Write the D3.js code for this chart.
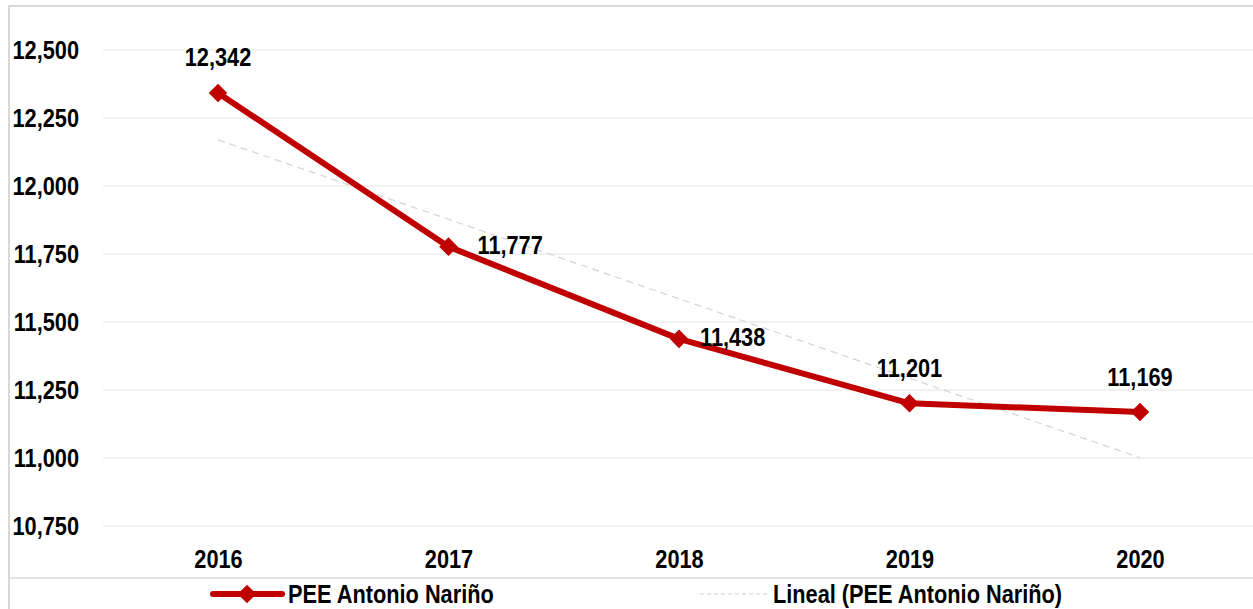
<!DOCTYPE html>
<html>
<head>
<meta charset="utf-8">
<script src="https://cdn.jsdelivr.net/npm/d3@7"></script>
<style>
  body { margin: 0; background: #fff; }
  svg text { font-family: "Liberation Sans", Arial, sans-serif; font-weight: bold; fill: #000; }
</style>
</head>
<body>
<div id="chart"></div>
<script>
'use strict';

// data
const years = ['2016', '2017', '2018', '2019', '2020'];
const values = [12342, 11777, 11438, 11201, 11169];
const yTicks = [10750, 11000, 11250, 11500, 11750, 12000, 12250, 12500];
const seriesName = 'PEE Antonio Nariño';
const trendName = 'Lineal (PEE Antonio Nariño)';

// label placement per point (Excel style: above or to the right)
const labelPos = ['above', 'right', 'right', 'above', 'above'];
const labelDx = [0, 29, 21, 0, 0];

const W = 1253, H = 609;
const RED = '#C00000';
const FONT = 25;
const NARROW = 0.87; // no Arial Narrow here, squeeze the regular face

const svg = d3.select('#chart').append('svg')
    .attr('width', W)
    .attr('height', H);

// draw a condensed bold text anchored at (x, y)
function narrowText(parent, x, y, str, anchor) {
  return parent.append('text')
      .attr('transform', 'translate(' + x + ',' + y + ') scale(' + NARROW + ',1)')
      .attr('text-anchor', anchor || 'start')
      .attr('font-size', FONT)
      .text(str);
}

// outer frame
svg.append('rect')
    .attr('x', 9).attr('y', 6)
    .attr('width', W + 10).attr('height', H + 10)
    .attr('fill', 'none')
    .attr('stroke', '#d9d9d9')
    .attr('stroke-width', 2);

// legend separator
svg.append('line')
    .attr('x1', 10).attr('x2', W)
    .attr('y1', 578).attr('y2', 578)
    .attr('stroke', '#d9d9d9')
    .attr('stroke-width', 1.5);

const x = d3.scalePoint()
    .domain(years)
    .range([218, 1140]);

const y = d3.scaleLinear()
    .domain([10750, 12500])
    .range([526, 50]);

// gridlines
svg.append('g')
    .selectAll('line')
    .data(yTicks)
  .enter().append('line')
    .attr('x1', 103).attr('x2', W)
    .attr('y1', d => y(d)).attr('y2', d => y(d))
    .attr('stroke', '#ececec')
    .attr('stroke-width', 1.5);

// y axis labels
const fmt = d3.format(',');
const yAxis = d3.axisLeft(y).tickValues(yTicks).tickFormat(fmt).tickSize(0).tickPadding(0);
const yg = svg.append('g')
    .attr('transform', 'translate(79,0)')
    .call(yAxis);
yg.select('.domain').remove();
yg.selectAll('text')
    .attr('x', 0)
    .attr('dy', 8.5)
    .attr('transform', 'scale(' + NARROW + ',1)')
    .attr('font-size', FONT)
    .attr('font-family', null)
    .style('font-weight', 'bold');

// x axis labels
const xAxis = d3.axisBottom(x).tickSize(0).tickPadding(0);
const xg = svg.append('g')
    .attr('transform', 'translate(0,568)')
    .call(xAxis);
xg.select('.domain').remove();
xg.selectAll('text')
    .attr('y', 0)
    .attr('dy', 0)
    .attr('transform', 'scale(' + NARROW + ',1)')
    .attr('font-size', FONT)
    .attr('font-family', null)
    .style('font-weight', 'bold');

// linear trend (least squares over index)
const mx = d3.mean(values, (d, i) => i);
const my = d3.mean(values);
const slope = d3.sum(values, (d, i) => (i - mx) * (d - my)) / d3.sum(values, (d, i) => (i - mx) * (i - mx));
const trend = years.map((yr, i) => my + slope * (i - mx));

svg.append('path')
    .datum(trend)
    .attr('fill', 'none')
    .attr('stroke', '#d4d4d4')
    .attr('stroke-width', 1.2)
    .attr('stroke-dasharray', '7,5')
    .attr('d', d3.line().x((d, i) => x(years[i])).y(d => y(d)));

// series line
svg.append('path')
    .datum(values)
    .attr('fill', 'none')
    .attr('stroke', RED)
    .attr('stroke-width', 6)
    .attr('stroke-linejoin', 'round')
    .attr('d', d3.line().x((d, i) => x(years[i])).y(d => y(d)));

// markers
const diamond = d3.symbol().type(d3.symbolDiamond2).size(220);
svg.append('g')
    .selectAll('path')
    .data(values)
  .enter().append('path')
    .attr('d', diamond)
    .attr('fill', RED)
    .attr('transform', (d, i) => 'translate(' + x(years[i]) + ',' + y(d) + ')');

// value labels
const labels = svg.append('g');
values.forEach((v, i) => {
  if (labelPos[i] === 'above') {
    narrowText(labels, x(years[i]), y(v) - 26.5, fmt(v), 'middle');
  } else {
    narrowText(labels, x(years[i]) + labelDx[i], y(v) + 7, fmt(v), 'start');
  }
});

// legend
const lg = svg.append('g');
lg.append('line')
    .attr('x1', 213).attr('x2', 282)
    .attr('y1', 594).attr('y2', 594)
    .attr('stroke', RED).attr('stroke-width', 6)
    .attr('stroke-linecap', 'round');
lg.append('path')
    .attr('d', diamond)
    .attr('fill', RED)
    .attr('transform', 'translate(247,594)');
narrowText(lg, 288, 603, seriesName);
lg.append('line')
    .attr('x1', 700).attr('x2', 768)
    .attr('y1', 594).attr('y2', 594)
    .attr('stroke', '#d4d4d4').attr('stroke-width', 1.2)
    .attr('stroke-dasharray', '4,3');
narrowText(lg, 773, 603, trendName);
</script>
</body>
</html>
